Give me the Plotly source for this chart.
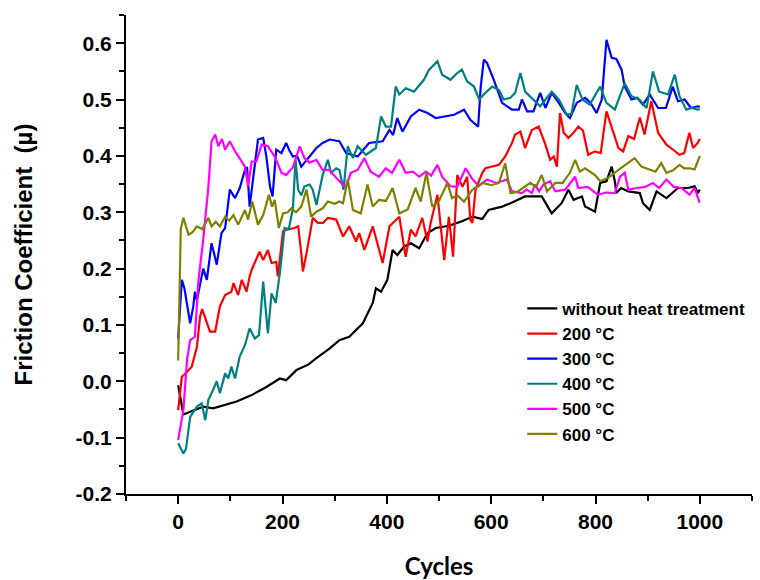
import plotly.graph_objects as go

SERIES_NAMES = ["without heat treatment", "200 °C", "300 °C", "400 °C", "500 °C", "600 °C"]
SERIES_COLORS = ["#000000", "#ff0000", "#0000ff", "#008080", "#ff00ff", "#808000"]

X_TICKS = [0, 200, 400, 600, 800, 1000]
Y_TICKS = [-0.2, -0.1, 0.0, 0.1, 0.2, 0.3, 0.4, 0.5, 0.6]

# (cycle, friction coefficient)
BLACK = [(0,-0.007),(10,-0.059),(23,-0.054),(48,-0.045),(67,-0.048),(90,-0.042),(112,-0.036),(140,-0.025),
         (169,-0.010),(195,0.005),(207,0.002),(227,0.020),(250,0.030),(265,0.041),(290,0.058),(309,0.073),
         (328,0.079),(354,0.103),(373,0.139),(379,0.165),(389,0.159),(401,0.18),(411,0.233),(420,0.224),
         (433,0.239),(446,0.245),(462,0.236),(478,0.263),(494,0.272),(519,0.276),(544,0.284),(564,0.292),
         (583,0.288),(595,0.304),(621,0.31),(637,0.316),(665,0.328),(697,0.328),(716,0.298),(735,0.316),
         (748,0.34),(758,0.322),(774,0.328),(780,0.31),(799,0.301),(809,0.352),(821,0.355),(831,0.381),
         (837,0.355),(840,0.334),(849,0.343),(863,0.337),(885,0.334),(891,0.316),(904,0.304),(917,0.337),
         (936,0.325),(958,0.343),(977,0.343),(990,0.346),(996,0.334),(1000,0.34)]

RED = [(0,-0.051),(7,0.008),(17,0.017),(26,0.026),(36,0.061),(42,0.115),(46,0.128),(55,0.103),(61,0.088),
       (71,0.088),(80,0.133),(90,0.153),(102,0.159),(106,0.174),(115,0.153),(122,0.18),(131,0.159),(137,0.186),
       (141,0.198),(156,0.23),(163,0.215),(172,0.233),(179,0.21),(188,0.212),(191,0.186),(201,0.266),(207,0.269),
       (223,0.272),(230,0.275),(236,0.227),(239,0.195),(246,0.227),(258,0.29),(268,0.281),(278,0.281),(287,0.29),
       (303,0.287),(316,0.257),(328,0.275),(341,0.248),(347,0.263),(357,0.233),(373,0.275),(392,0.21),(405,0.275),
       (424,0.292),(436,0.221),(446,0.269),(455,0.257),(468,0.29),(478,0.248),(484,0.281),(494,0.322),(497,0.331),
       (510,0.215),(519,0.292),(527,0.221),(535,0.366),(545,0.345),(554,0.363),(560,0.287),(564,0.281),(570,0.34),
       (583,0.37),(589,0.378),(615,0.384),(627,0.399),(640,0.423),(646,0.438),(656,0.443),(665,0.414),(678,0.446),
       (691,0.452),(704,0.42),(713,0.393),(720,0.399),(726,0.381),(732,0.476),(739,0.441),(748,0.432),(757,0.44),
       (767,0.452),(776,0.445),(786,0.402),(799,0.408),(810,0.405),(821,0.479),(831,0.449),(844,0.414),(853,0.408),
       (863,0.435),(874,0.43),(885,0.468),(894,0.438),(907,0.497),(920,0.441),(936,0.42),(950,0.41),(961,0.402),
       (970,0.405),(980,0.441),(987,0.414),(996,0.423),(1000,0.43)]

BLUE = [(0,0.076),(7,0.18),(12,0.165),(23,0.103),(29,0.133),(32,0.159),(36,0.144),(42,0.174),(48,0.2),(55,0.18),
        (64,0.245),(74,0.207),(83,0.263),(90,0.272),(99,0.34),(109,0.325),(118,0.343),(128,0.375),(132,0.38),
        (137,0.31),(147,0.387),(153,0.429),(163,0.432),(169,0.399),(176,0.346),(181,0.328),(188,0.411),(198,0.405),
        (207,0.423),(213,0.41),(220,0.399),(228,0.40),(236,0.381),(246,0.393),(265,0.414),(277,0.423),(290,0.429),
        (309,0.426),(319,0.408),(322,0.405),(344,0.399),(366,0.423),(392,0.426),(405,0.446),(412,0.437),(420,0.467),
        (430,0.443),(446,0.47),(462,0.482),(478,0.476),(494,0.467),(510,0.470),(529,0.473),(548,0.482),(560,0.464),
        (575,0.452),(580,0.523),(586,0.571),(592,0.565),(605,0.535),(621,0.494),(640,0.482),(653,0.482),(659,0.5),
        (669,0.479),(681,0.479),(694,0.512),(704,0.485),(716,0.512),(729,0.495),(742,0.476),(751,0.467),(764,0.494),
        (780,0.503),(790,0.495),(802,0.476),(812,0.5),(821,0.606),(831,0.574),(840,0.572),(850,0.553),(856,0.523),
        (869,0.5),(880,0.503),(891,0.491),(904,0.509),(920,0.485),(935,0.485),(948,0.523),(958,0.497),(971,0.5),
        (983,0.485),(996,0.488),(1000,0.487)]

TEAL = [(0,-0.11),(10,-0.128),(15,-0.12),(23,-0.063),(36,-0.045),(45,-0.039),(52,-0.069),(58,-0.033),(67,-0.015),
        (74,0.0),(80,-0.021),(90,0.014),(96,0.005),(102,0.026),(109,0.005),(118,0.044),(128,0.064),(137,0.094),
        (147,0.076),(155,0.082),(163,0.177),(172,0.085),(179,0.156),(187,0.139),(195,0.192),(204,0.272),(212,0.27),
        (220,0.307),(225,0.393),(230,0.34),(236,0.33),(242,0.346),(252,0.349),(258,0.34),(265,0.313),(277,0.366),
        (287,0.393),(293,0.37),(303,0.378),(309,0.375),(317,0.34),(325,0.417),(335,0.396),(344,0.417),(360,0.402),
        (379,0.414),(389,0.47),(398,0.452),(408,0.452),(417,0.523),(424,0.509),(436,0.52),(452,0.514),(471,0.535),
        (481,0.553),(497,0.568),(506,0.544),(522,0.535),(535,0.547),(544,0.553),(554,0.532),(567,0.523),(577,0.5),
        (589,0.512),(602,0.523),(615,0.517),(624,0.5),(637,0.503),(646,0.512),(656,0.547),(665,0.514),(681,0.5),
        (694,0.488),(716,0.514),(730,0.50),(745,0.473),(754,0.475),(764,0.526),(775,0.50),(789,0.491),(809,0.523),
        (821,0.494),(837,0.482),(856,0.529),(869,0.506),(884,0.50),(898,0.485),(910,0.55),(922,0.514),(939,0.509),
        (952,0.544),(961,0.506),(974,0.482),(985,0.485),(996,0.482),(1000,0.483)]

MAGENTA = [(0,-0.104),(10,-0.051),(17,0.038),(23,0.073),(32,0.079),(39,0.18),(48,0.251),(58,0.346),(64,0.426),
           (71,0.438),(77,0.417),(84,0.43),(90,0.411),(99,0.426),(108,0.41),(118,0.396),(128,0.381),(134,0.346),
           (141,0.39),(150,0.39),(160,0.42),(172,0.417),(185,0.399),(198,0.37),(207,0.366),(220,0.38),(233,0.417),
           (242,0.396),(252,0.388),(265,0.393),(277,0.375),(290,0.375),(303,0.361),(319,0.346),(322,0.346),
           (331,0.37),(344,0.375),(357,0.396),(369,0.372),(385,0.363),(398,0.378),(410,0.37),(424,0.393),(436,0.37),
           (450,0.372),(462,0.363),(475,0.372),(485,0.365),(497,0.384),(506,0.363),(522,0.346),(535,0.345),
           (551,0.378),(563,0.36),(576,0.346),(592,0.358),(610,0.352),(630,0.358),(640,0.337),(659,0.334),
           (668,0.34),(678,0.334),(684,0.349),(692,0.337),(700,0.349),(713,0.355),(723,0.337),(742,0.34),(761,0.363),
           (767,0.343),(785,0.345),(805,0.331),(820,0.335),(837,0.334),(847,0.363),(856,0.37),(863,0.34),(880,0.343),
           (895,0.345),(910,0.352),(922,0.343),(936,0.358),(950,0.345),(965,0.343),(980,0.331),(990,0.343),
           (999,0.319),(1000,0.32)]

OLIVE = [(0,0.037),(5,0.27),(10,0.29),(20,0.26),(28,0.265),(36,0.275),(46,0.27),(58,0.29),(64,0.275),(72,0.283),
         (80,0.275),(90,0.292),(98,0.285),(106,0.295),(115,0.278),(128,0.304),(134,0.287),(142,0.319),(153,0.278),
         (163,0.295),(174,0.331),(180,0.31),(185,0.322),(193,0.272),(201,0.298),(210,0.30),(217,0.307),(226,0.30),
         (236,0.31),(246,0.34),(255,0.292),(265,0.301),(277,0.307),(287,0.319),(300,0.315),(309,0.319),(316,0.316),
         (325,0.358),(335,0.304),(350,0.298),(363,0.349),(373,0.31),(385,0.322),(398,0.32),(411,0.343),(424,0.298),
         (440,0.305),(455,0.343),(465,0.319),(476,0.37),(487,0.31),(500,0.32),(516,0.352),(525,0.325),(535,0.33),
         (548,0.319),(564,0.34),(583,0.352),(600,0.348),(615,0.352),(627,0.387),(637,0.334),(650,0.336),(669,0.349),
         (675,0.352),(686,0.345),(697,0.366),(707,0.337),(723,0.352),(737,0.352),(751,0.37),(761,0.393),(770,0.372),
         (780,0.378),(799,0.366),(809,0.355),(824,0.361),(844,0.375),(863,0.387),(875,0.396),(888,0.381),(904,0.375),
         (915,0.372),(926,0.387),(936,0.37),(948,0.374),(961,0.384),(970,0.378),(980,0.378),(990,0.376),(999,0.399),
         (1000,0.40)]

SERIES_DATA = [BLACK, RED, BLUE, TEAL, MAGENTA, OLIVE]

FONT = "Liberation Sans, Arial, sans-serif"
TITLE_FONT = "Lato, Liberation Sans, Arial, sans-serif"

fig = go.Figure()
for name, color, data in zip(SERIES_NAMES, SERIES_COLORS, SERIES_DATA):
    fig.add_trace(go.Scatter(
        x=[p[0] for p in data], y=[p[1] for p in data], mode="lines", name=name,
        line=dict(color=color, width=2.2),
    ))

fig.update_layout(
    width=760, height=580, autosize=False,
    margin=dict(l=126, r=8, t=15, b=86, autoexpand=False),
    paper_bgcolor="white", plot_bgcolor="white",
    font=dict(family=FONT, color="black"),
    showlegend=True,
    legend=dict(
        x=0.633, y=0.424, xanchor="left", yanchor="top",
        bgcolor="rgba(0,0,0,0)", borderwidth=0,
        font=dict(family=FONT, size=17, color="black", weight="bold"),
        tracegroupgap=0, itemwidth=30,
    ),
)

fig.update_xaxes(
    range=[-100, 1100], tickmode="array", tickvals=X_TICKS,
    ticktext=[str(t) for t in X_TICKS],
    showgrid=False, zeroline=False, showline=True, linecolor="black", linewidth=2,
    ticks="outside", ticklen=8, tickwidth=2, tickcolor="black",
    tickfont=dict(family=FONT, size=21, color="black", weight="bold"),
    minor=dict(dtick=100, tick0=0, ticks="outside", ticklen=5, tickwidth=2, tickcolor="black", showgrid=False),
    title=dict(text="Cycles", font=dict(family=TITLE_FONT, size=24, color="black", weight="bold"), standoff=26),
)
fig.update_yaxes(
    range=[-0.2, 0.65], tickmode="array", tickvals=Y_TICKS,
    ticktext=[f"{t:.1f}" for t in Y_TICKS],
    showgrid=False, zeroline=False, showline=True, linecolor="black", linewidth=2,
    ticks="outside", ticklen=8, tickwidth=2, tickcolor="black",
    tickfont=dict(family=FONT, size=21, color="black", weight="bold"),
    minor=dict(dtick=0.05, tick0=0, ticks="outside", ticklen=5, tickwidth=2, tickcolor="black", showgrid=False),
    title=dict(text="Friction Coefficient \u00a0(\u00b5)", font=dict(family=FONT, size=24, color="black", weight="bold"), standoff=36),
)

fig.write_html("out.html")
